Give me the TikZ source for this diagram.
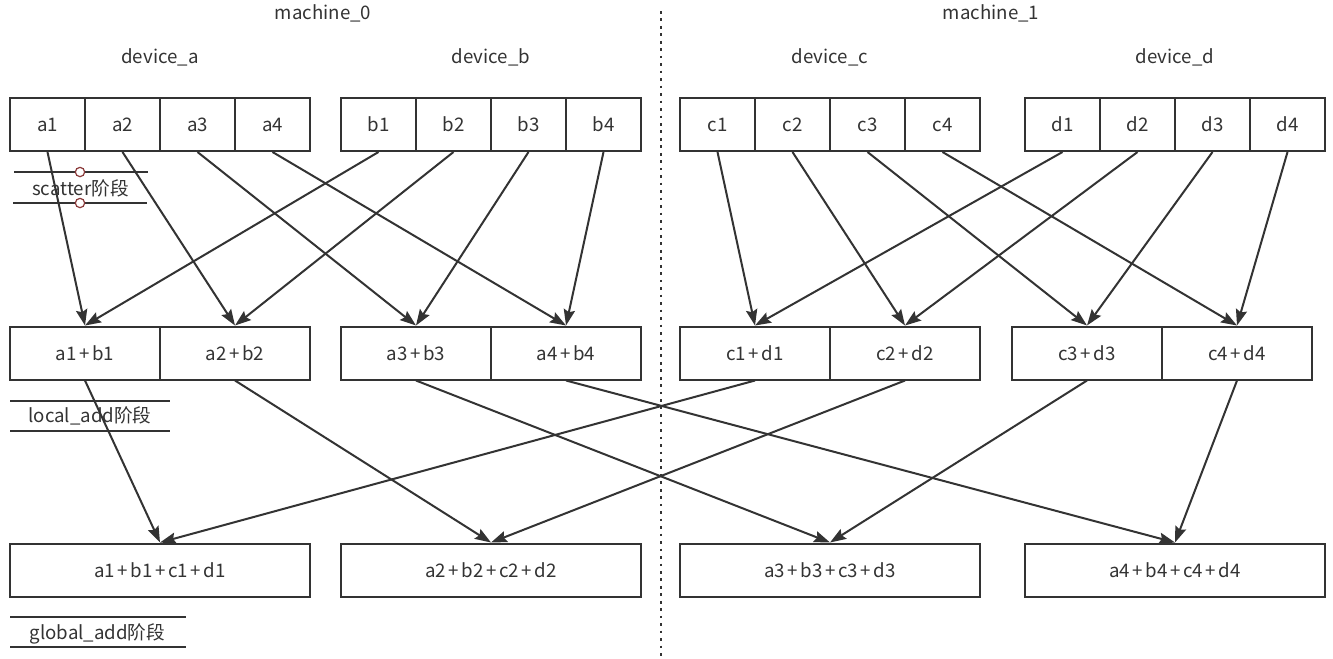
\documentclass[tikz,border=0pt]{standalone}
\usepackage{fontspec}
\setmainfont{Noto Sans CJK SC}
\usetikzlibrary{arrows.meta}
\definecolor{ink}{HTML}{333333}
\definecolor{knob}{HTML}{8B3A3A}
\newcommand\pl{\kern2pt+\kern2pt}
\begin{document}
\begin{tikzpicture}[x=0.75pt,y=-0.75pt,
  txt/.style={font=\fontsize{14}{16}\selectfont, text=ink, inner sep=0pt},
  cell/.style={draw=ink, line width=1.5pt, minimum width=56.25pt, minimum height=39.75pt, inner sep=0pt, txt},
  pair/.style={cell, minimum width=112.5pt},
  quad/.style={cell, minimum width=225pt},
  arr/.style={draw=ink, line width=1.5pt, -{Stealth[length=12pt, width=8.5pt, inset=1.8pt]}},
  rule/.style={draw=ink, line width=1.5pt},
  knobstyle/.style={circle, draw=knob, fill=white, line width=0.9pt, minimum size=7pt, inner sep=0pt}
]
\useasboundingbox (0,0) rectangle (1333,658);

% machine and device labels
\node[txt] (m0) at (323,13) {machine\_0};
\node[txt] (m1) at (991,13) {machine\_1};
\node[txt] (dva) at (160,57) {device\_a};
\node[txt] (dvb) at (491,57) {device\_b};
\node[txt] (dvc) at (830,57) {device\_c};
\node[txt] (dvd) at (1175,57) {device\_d};

% separator
\coordinate (sepTop) at (661,11);
\coordinate (sepBot) at (661,658);
\draw[ink, line width=2pt, dash pattern=on 2pt off 3.6pt] (sepTop) -- (sepBot);

% top row
\node[cell] (a1) at (47.5,124.5) {a1};
\node[cell] (a2) at (122.5,124.5) {a2};
\node[cell] (a3) at (197.5,124.5) {a3};
\node[cell] (a4) at (272.5,124.5) {a4};
\node[cell] (b1) at (378.5,124.5) {b1};
\node[cell] (b2) at (453.5,124.5) {b2};
\node[cell] (b3) at (528.5,124.5) {b3};
\node[cell] (b4) at (603.5,124.5) {b4};
\node[cell] (c1) at (717.5,124.5) {c1};
\node[cell] (c2) at (792.5,124.5) {c2};
\node[cell] (c3) at (867.5,124.5) {c3};
\node[cell] (c4) at (942.5,124.5) {c4};
\node[cell] (d1) at (1062.5,124.5) {d1};
\node[cell] (d2) at (1137.5,124.5) {d2};
\node[cell] (d3) at (1212.5,124.5) {d3};
\node[cell] (d4) at (1287.5,124.5) {d4};

% middle row
\node[pair] (ab1) at (85,353) {a1\pl b1};
\node[pair] (ab2) at (235,353) {a2\pl b2};
\node[pair] (ab3) at (416,353) {a3\pl b3};
\node[pair] (ab4) at (566,353) {a4\pl b4};
\node[pair] (cd1) at (755,353) {c1\pl d1};
\node[pair] (cd2) at (905,353) {c2\pl d2};
\node[pair] (cd3) at (1087,353) {c3\pl d3};
\node[pair] (cd4) at (1237,353) {c4\pl d4};

% bottom row
\node[quad] (g1) at (160,570) {a1\pl b1\pl c1\pl d1};
\node[quad] (g2) at (491,570) {a2\pl b2\pl c2\pl d2};
\node[quad] (g3) at (830,570) {a3\pl b3\pl c3\pl d3};
\node[quad] (g4) at (1175,570) {a4\pl b4\pl c4\pl d4};

% arrows
\foreach \i in {1,2,3,4}{
  \draw[arr] (a\i.south) -- (ab\i.north);
  \draw[arr] (b\i.south) -- (ab\i.north);
  \draw[arr] (c\i.south) -- (cd\i.north);
  \draw[arr] (d\i.south) -- (cd\i.north);
  \draw[arr] (ab\i.south) -- (g\i.north);
  \draw[arr] (cd\i.south) -- (g\i.north);
}

% phase labels
\draw[rule] (14,172) -- (148,172);
\draw[rule] (13,203) -- (147,203);
\node[txt] (ph1) at (80.5,188) {scatter阶段};
\node[knobstyle] (k1) at (80,172) {};
\node[knobstyle] (k2) at (80,203) {};

\draw[rule] (10,401) -- (170,401);
\draw[rule] (10,431) -- (170,431);
\node[txt] (ph2) at (90,416) {local\_add阶段};

\draw[rule] (10,617) -- (186,617);
\draw[rule] (10,647) -- (186,647);
\node[txt] (ph3) at (97.5,634) {global\_add阶段};
\end{tikzpicture}
\end{document}
